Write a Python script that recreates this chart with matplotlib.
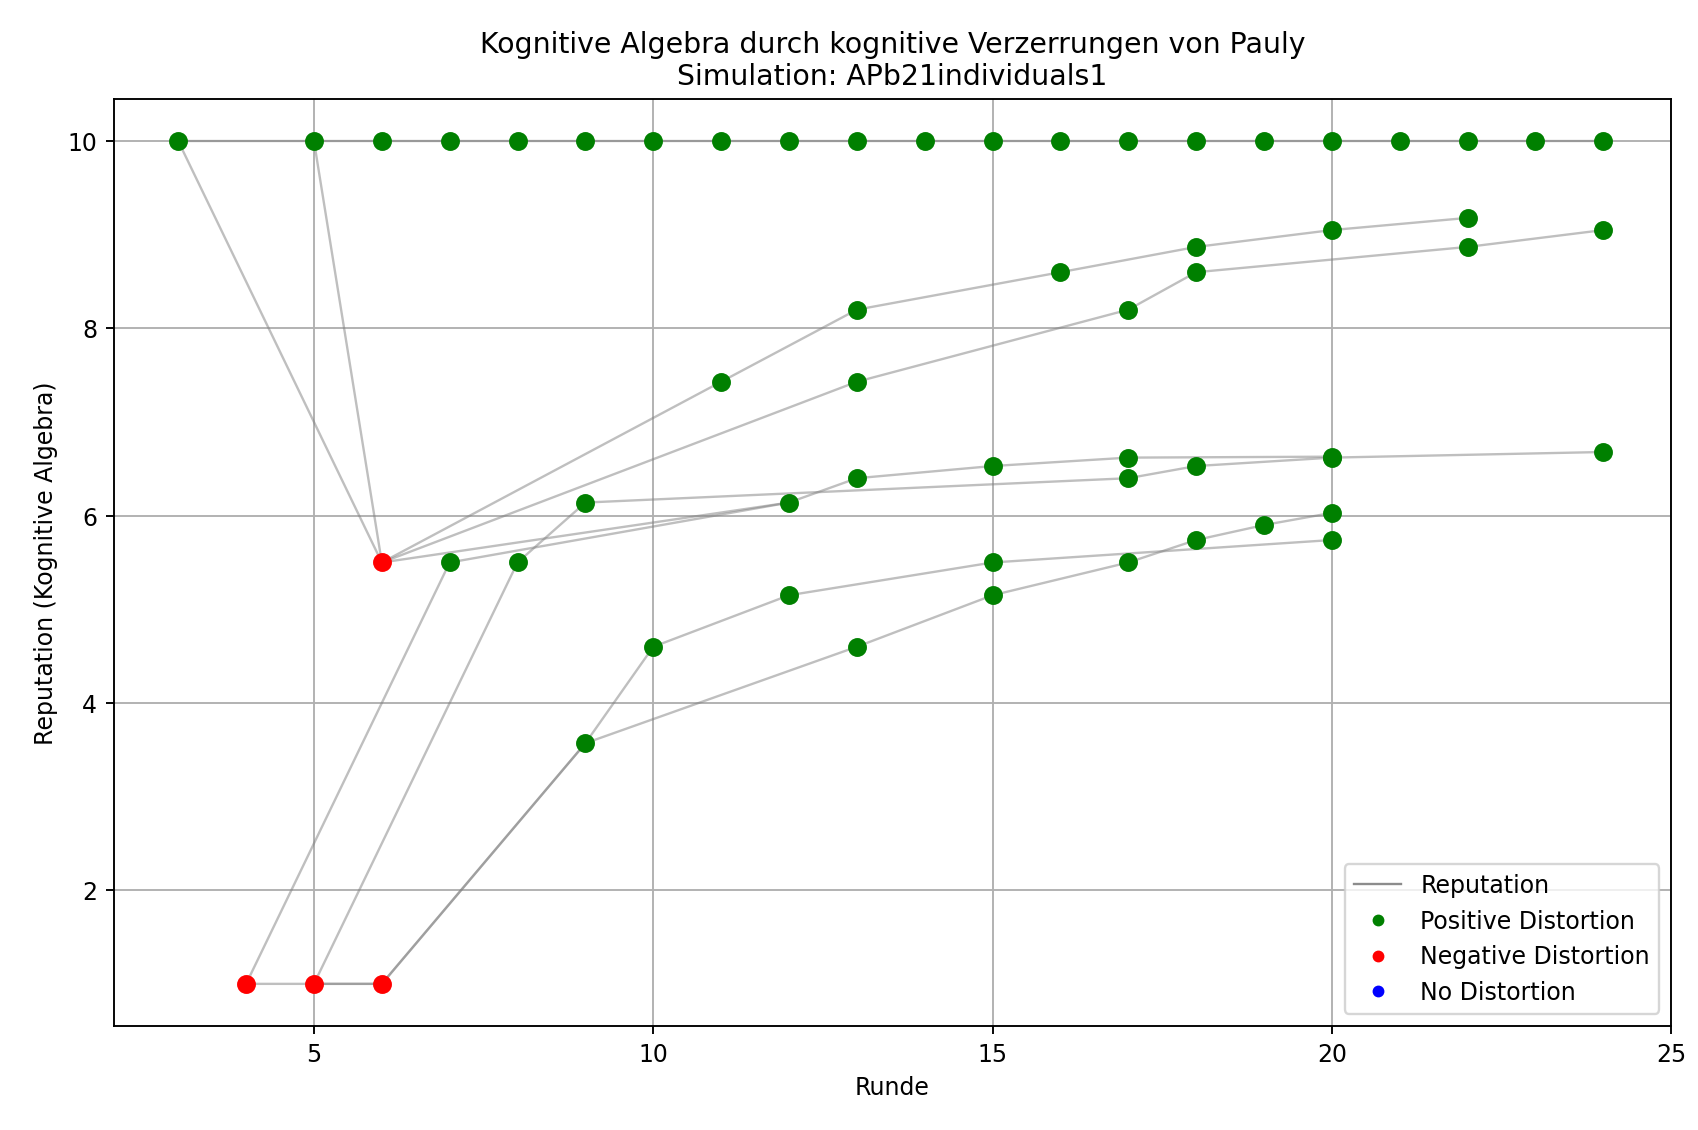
import matplotlib
matplotlib.use("Agg")
import matplotlib.pyplot as plt
from matplotlib.lines import Line2D

# trajectories of individuals (round, reputation)
traj_top_r = [3] + list(range(5, 25))
traj_top_v = [10.0] * len(traj_top_r)

trajectories = [
    ([3, 6, 11, 13, 16, 18, 20, 22], [10, 5.5, 7.43, 8.2, 8.6, 8.87, 9.05, 9.18]),
    ([5, 6, 13, 17, 18, 22, 24], [10, 5.5, 7.43, 8.2, 8.6, 8.87, 9.05]),
    ([6, 12, 13, 15, 17, 20], [5.5, 6.14, 6.4, 6.53, 6.62, 6.63]),
    ([4, 7, 12], [1, 5.5, 6.14]),
    ([5, 8, 9, 17, 18, 20, 24], [1, 5.5, 6.14, 6.4, 6.53, 6.62, 6.68]),
    ([4, 6, 9, 10, 12, 15, 20], [1, 1, 3.57, 4.6, 5.15, 5.5, 5.74]),
    ([5, 6, 9, 13, 15, 17, 18, 19, 20], [1, 1, 3.57, 4.6, 5.15, 5.5, 5.74, 5.9, 6.03]),
]

red_r = [6, 4, 5, 6]
red_v = [5.5, 1, 1, 1]

fig, ax = plt.subplots(figsize=(9.99, 6.65), dpi=170)
ax.plot(traj_top_r, traj_top_v, color="gray", alpha=0.5, lw=1)
for r, v in trajectories:
    ax.plot(r, v, color="gray", alpha=0.5, lw=1)

green_pts = set(zip(traj_top_r, traj_top_v))
for r, v in trajectories:
    green_pts.update(zip(r, v))
green_pts -= set(zip(red_r, red_v))
gr = [p[0] for p in green_pts]
gv = [p[1] for p in green_pts]
ax.plot(gr, gv, "o", color="green", ms=7, zorder=3)
ax.plot(red_r, red_v, "o", color="red", ms=7, zorder=3)

handles = [
    Line2D([], [], color="gray", alpha=0.9, lw=1, label="Reputation"),
    Line2D([], [], marker="o", ls="", color="green", ms=4, label="Positive Distortion"),
    Line2D([], [], marker="o", ls="", color="red", ms=4, label="Negative Distortion"),
    Line2D([], [], marker="o", ls="", color="blue", ms=4, label="No Distortion"),
]
ax.legend(handles=handles, loc="lower right")
ax.set_xlim(2.05, 25.0)
ax.set_ylim(0.55, 10.45)
ax.set_xticks([5, 10, 15, 20, 25])
ax.set_yticks([2, 4, 6, 8, 10])
ax.grid(True)
ax.set_xlabel("Runde")
ax.set_ylabel("Reputation (Kognitive Algebra)")
ax.set_title("Kognitive Algebra durch kognitive Verzerrungen von Pauly\nSimulation: APb21individuals1")
fig.subplots_adjust(left=0.067, right=0.984, top=0.912, bottom=0.092)
fig.savefig("out.png")
